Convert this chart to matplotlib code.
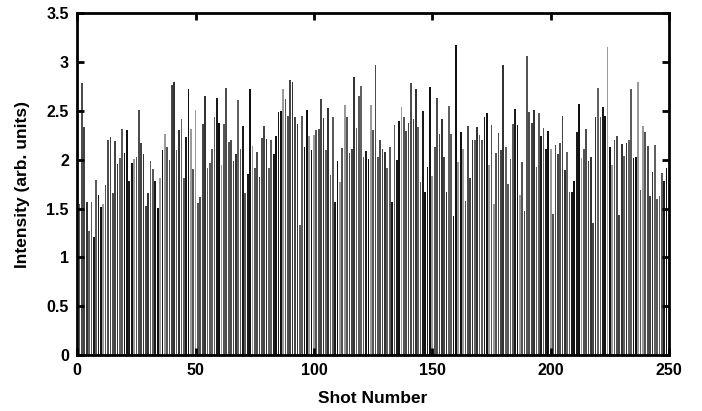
import matplotlib
matplotlib.use("Agg")
import matplotlib.pyplot as plt
from matplotlib.ticker import MultipleLocator, FormatStrFormatter
import numpy as np

# intensities, shots 1..249
shots_1_41 = [1.55, 2.78, 2.33, 1.57, 1.27, 1.57, 1.21, 1.79, 1.64, 1.52,
              1.55, 1.74, 2.20, 2.23, 1.66, 2.19, 1.96, 2.02, 2.31, 2.07,
              2.30, 1.78, 1.97, 2.01, 2.03, 2.51, 2.17, 2.06, 1.53, 1.66,
              1.99, 1.90, 1.78, 1.51, 1.81, 2.10, 2.26, 2.13, 2.00, 2.76,
              2.80]
shots_42_83 = [2.10, 2.30, 2.42, 1.81, 2.23, 2.72, 2.31, 1.90, 2.51, 1.56,
               1.62, 2.37, 2.65, 1.91, 1.97, 2.11, 2.44, 2.63, 2.38, 1.95,
               2.37, 2.73, 2.18, 2.20, 1.99, 2.06, 2.61, 2.11, 2.35, 1.66,
               1.85, 2.72, 2.14, 1.92, 2.08, 1.82, 2.22, 2.34, 2.21, 1.92,
               2.20, 2.06]
shots_84_124 = [2.24, 2.49, 2.50, 2.72, 2.62, 2.45, 2.82, 2.80, 2.44, 2.37,
                1.33, 2.45, 2.13, 2.51, 2.24, 2.10, 2.25, 2.30, 2.31, 2.62,
                2.43, 2.10, 2.53, 1.84, 2.44, 1.57, 1.99, 1.77, 2.12, 2.56,
                2.44, 2.07, 2.11, 2.85, 2.32, 2.65, 2.75, 2.03, 2.09, 2.01,
                2.56]
shots_125_165 = [2.30, 2.97, 2.03, 2.20, 2.11, 2.08, 1.92, 2.13, 1.57, 2.36,
                 2.00, 2.40, 2.54, 2.44, 2.29, 2.38, 2.78, 2.42, 2.72, 2.33,
                 1.77, 2.50, 1.67, 1.93, 2.74, 1.83, 2.13, 2.63, 2.26, 2.42,
                 2.03, 1.67, 2.55, 2.26, 1.42, 3.17, 1.98, 2.28, 2.11, 1.58,
                 2.35]
shots_166_207 = [1.81, 2.20, 2.20, 2.33, 2.25, 2.20, 2.44, 2.48, 1.95, 2.36,
                 1.55, 2.07, 2.27, 2.10, 2.97, 2.13, 1.75, 2.01, 2.37, 2.52,
                 2.36, 1.64, 1.98, 1.47, 3.06, 2.49, 2.38, 2.51, 1.93, 2.48,
                 2.24, 2.32, 2.11, 2.29, 2.11, 1.44, 2.15, 2.06, 2.17, 2.45,
                 1.89, 2.08]
shots_208_249 = [1.67, 1.67, 1.78, 2.28, 2.57, 2.02, 2.11, 2.31, 1.99, 2.03,
                 1.35, 2.44, 2.73, 2.44, 2.54, 2.45, 3.15, 2.13, 1.95, 2.20,
                 2.24, 1.43, 2.16, 2.04, 2.17, 2.20, 2.72, 2.02, 2.03, 2.80,
                 1.69, 2.35, 2.28, 2.14, 1.63, 1.87, 2.15, 1.60, 1.63, 1.86,
                 1.78, 1.91]

intensity = (shots_1_41 + shots_42_83 + shots_84_124 + shots_125_165
             + shots_166_207 + shots_208_249)
shot = np.arange(1, len(intensity) + 1)

bold = {'family': 'Liberation Sans', 'weight': 'bold'}

fig = plt.figure(figsize=(7.02, 4.11), dpi=100)
ax = fig.add_axes([0.110, 0.136, 0.843, 0.832])

# mostly dark grey bars, some black, a few light grey
greys = ['#555555', '#111111', '#5a5a5a', '#333333', '#4d4d4d', '#9a9a9a',
         '#1a1a1a', '#606060', '#444444']
colors = [greys[(i * 4 + i // 7) % len(greys)] for i in range(len(shot))]
ax.bar(shot, intensity, width=0.72, color=colors, edgecolor='none')

ax.set_xlim(0, 250)
ax.set_ylim(0, 3.5)
ax.xaxis.set_major_locator(MultipleLocator(50))
ax.yaxis.set_major_locator(MultipleLocator(0.5))
ax.yaxis.set_major_formatter(FormatStrFormatter('%g'))
ax.tick_params(direction='in', top=True, right=True, length=5, width=2, pad=6)
for lab in ax.get_xticklabels() + ax.get_yticklabels():
  lab.set_fontproperties(bold)
  lab.set_fontsize(11.5)
for s in ax.spines.values():
  s.set_linewidth(2)

ax.set_xlabel("Shot Number", fontdict=bold, fontsize=12.5, labelpad=9)
ax.set_ylabel("Intensity (arb. units)", fontdict=bold, fontsize=12.5, labelpad=12)

fig.savefig('out.png', dpi=100)
